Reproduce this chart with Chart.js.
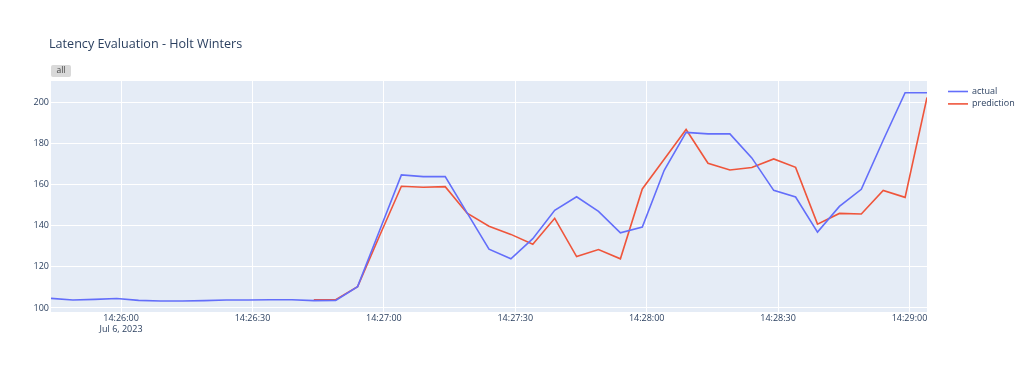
<!DOCTYPE html>
<html>
<head>
<meta charset="utf-8">
<script src="https://cdn.jsdelivr.net/npm/chart.js@4.4.1/dist/chart.umd.min.js"></script>
<style>
  html, body { margin: 0; padding: 0; background: #ffffff; }
  #wrap { width: 1024px; height: 379px; position: relative; }
</style>
</head>
<body>
<div id="wrap"><canvas id="c" width="1024" height="379"></canvas></div>
<script>
const chartTitle = "Latency Evaluation - Holt Winters";
const buttonLabel = "all";
const dateLabel = "Jul 6, 2023";
const seriesNames = ["actual", "prediction"];
const times = [
  "14:25:44","14:25:49","14:25:54","14:25:59",
  "14:26:04","14:26:09","14:26:14","14:26:19","14:26:24","14:26:29",
  "14:26:34","14:26:39","14:26:44","14:26:49","14:26:54","14:26:59",
  "14:27:04","14:27:09","14:27:14","14:27:19","14:27:24","14:27:29",
  "14:27:34","14:27:39","14:27:44","14:27:49","14:27:54","14:27:59",
  "14:28:04","14:28:09","14:28:14","14:28:19","14:28:24","14:28:29",
  "14:28:34","14:28:39","14:28:44","14:28:49","14:28:54","14:28:59",
  "14:29:04"
];
const actual = [
  104.7, 103.9, 104.2, 104.6,
  103.7, 103.4, 103.4, 103.6, 103.9, 103.9,
  104.0, 104.0, 103.6, 103.7, 110.4, 137.6,
  164.7, 163.9, 163.9, 146.3, 128.6, 123.9,
  133.7, 147.5, 154.1, 147.0, 136.6, 139.4,
  167.0, 185.4, 184.7, 184.7, 173.0, 157.2,
  154.0, 136.9, 149.4, 157.7, 181.6, 204.7,
  204.7
];
const prediction = [
  null, null, null, null,
  null, null, null, null, null, null,
  null, null, 104.0, 104.0, 110.4, 135.0,
  159.2, 158.7, 159.0, 146.1, 139.8, 135.8,
  131.0, 143.6, 125.0, 128.4, 123.9, 157.9,
  172.3, 186.8, 170.4, 167.1, 168.3, 172.5,
  168.4, 140.8, 146.0, 145.7, 157.2, 153.8,
  202.4
];
const xTickTimes = ["14:26:00","14:26:30","14:27:00","14:27:30","14:28:00","14:28:30","14:29:00"];
const yTicks = [100, 120, 140, 160, 180, 200];

function toSec(s) { const p = s.split(":").map(Number); return p[0]*3600 + p[1]*60 + p[2]; }
function fmt(sec) {
  const h = Math.floor(sec/3600), m = Math.floor((sec%3600)/60), s = sec%60;
  const pad = v => String(v).padStart(2, "0");
  return pad(h) + ":" + pad(m) + ":" + pad(s);
}
const xs = times.map(toSec);
const xTickVals = xTickTimes.map(toSec);

const FONT = "'Open Sans', 'Noto Sans', sans-serif";
const TXT = "#2a3f5f";
const COLORS = ["#636efa", "#ef553b"];

const decor = {
  id: "decor",
  beforeDraw(chart) {
    const { ctx, chartArea: a } = chart;
    ctx.save();
    ctx.fillStyle = "#e5ecf6";
    ctx.fillRect(a.left, a.top, a.right - a.left, a.bottom - a.top);
    ctx.restore();
  },
  afterDraw(chart) {
    const { ctx } = chart;
    ctx.save();
    // title
    ctx.fillStyle = TXT;
    ctx.font = "12.6px " + FONT;
    ctx.textBaseline = "middle";
    ctx.textAlign = "left";
    ctx.fillText(chartTitle, 49, 44);
    // button
    ctx.fillStyle = "#d9d9d9";
    ctx.beginPath();
    if (ctx.roundRect) ctx.roundRect(51, 65, 20, 12, 2); else ctx.rect(51, 65, 20, 12);
    ctx.fill();
    ctx.fillStyle = "#444";
    ctx.font = "8.5px " + FONT;
    ctx.textAlign = "center";
    ctx.fillText(buttonLabel, 61, 71);
    // legend
    ctx.textAlign = "left";
    ctx.font = "9px " + FONT;
    chart.data.datasets.forEach((ds, i) => {
      const y = 91.5 + i * 12.4;
      ctx.strokeStyle = ds.borderColor;
      ctx.lineWidth = 1.6;
      ctx.beginPath();
      ctx.moveTo(948, y); ctx.lineTo(968, y);
      ctx.stroke();
      ctx.fillStyle = TXT;
      ctx.fillText(ds.label, 972, y);
    });
    ctx.restore();
  }
};

new Chart(document.getElementById("c"), {
  type: "line",
  data: {
    datasets: [
      { label: seriesNames[0], data: xs.map((x, i) => ({ x, y: actual[i] })), borderColor: COLORS[0], backgroundColor: COLORS[0], borderWidth: 1.6, pointRadius: 0, tension: 0 },
      { label: seriesNames[1], data: xs.map((x, i) => ({ x, y: prediction[i] })), borderColor: COLORS[1], backgroundColor: COLORS[1], borderWidth: 1.6, pointRadius: 0, tension: 0, spanGaps: false }
    ]
  },
  options: {
    responsive: false,
    animation: false,
    events: [],
    layout: { padding: { top: 81, right: 97, left: 0, bottom: 0 } },
    plugins: { legend: { display: false }, title: { display: false }, tooltip: { enabled: false } },
    scales: {
      x: {
        type: "linear",
        min: xs[0], max: xs[xs.length - 1],
        afterBuildTicks(scale) { scale.ticks = xTickVals.map(v => ({ value: v })); },
        afterFit(scale) { scale.height = 67; },
        grid: { color: "#ffffff", lineWidth: 1, drawTicks: false },
        border: { display: false },
        ticks: {
          padding: 1,
          maxRotation: 0, autoSkip: false,
          color: TXT, font: { family: FONT, size: 9 },
          callback(v) { return v === xTickVals[0] ? [fmt(v), dateLabel] : fmt(v); }
        }
      },
      y: {
        type: "linear",
        min: 98.05, max: 210.4,
        afterBuildTicks(scale) { scale.ticks = yTicks.map(v => ({ value: v })); },
        afterFit(scale) { scale.width = 51; },
        grid: { color: "#ffffff", lineWidth: 1, drawTicks: false },
        border: { display: false },
        ticks: { padding: 2, color: TXT, font: { family: FONT, size: 9 } }
      }
    }
  },
  plugins: [decor]
});
</script>
</body>
</html>
